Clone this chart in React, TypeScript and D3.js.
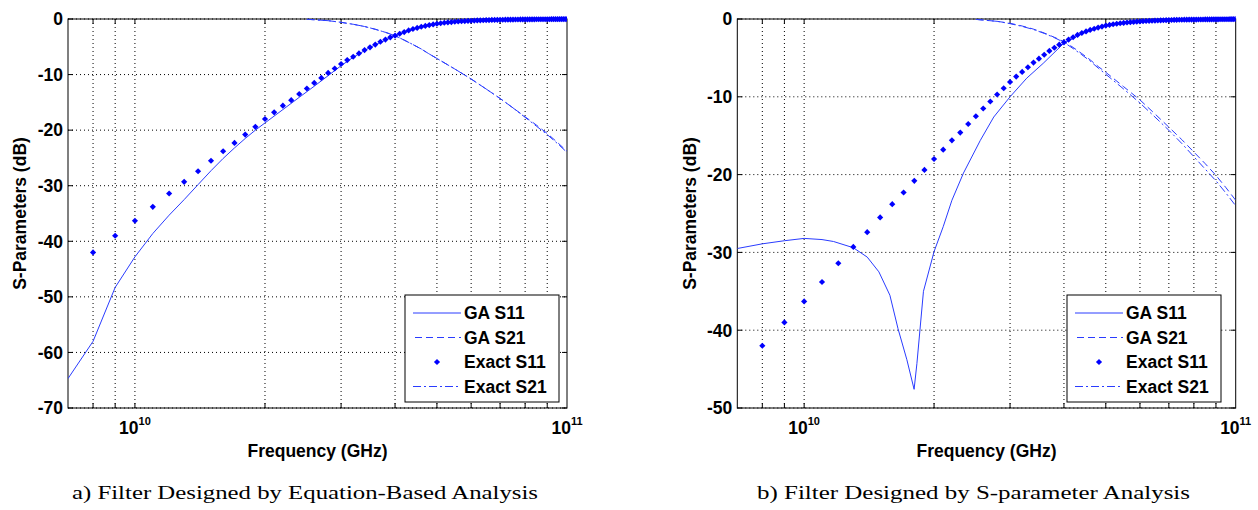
import React from "react";
import * as d3 from "d3";

// ---------- data (frequency in GHz, values in dB) ----------
const EXACT_FREQ = [
  8, 9, 10, 11, 12, 13, 14, 15, 16, 17, 18, 19, 20, 21, 22, 23, 24, 25, 26, 27, 28, 29, 30,
  31, 32, 33, 34, 35, 36, 37, 38, 39, 40, 41, 42, 43, 44, 45, 46, 47, 48, 49, 50, 51, 52, 53,
  54, 55, 56, 57, 58, 59, 60, 61, 62, 63, 64, 65, 66, 67, 68, 69, 70, 71, 72, 73, 74, 75, 76,
  77, 78, 79, 80, 81, 82, 83, 84, 85, 86, 87, 88, 89, 90, 91, 92, 93, 94, 95, 96, 97, 98, 99, 100,
];
const EXACT_S11 = [
  -42.0, -39.0, -36.3, -33.8, -31.4, -29.3, -27.4, -25.5, -23.8, -22.3, -20.8, -19.4, -18.0,
  -16.8, -15.6, -14.6, -13.5, -12.5, -11.5, -10.6, -9.7, -8.9, -8.1, -7.4, -6.8, -6.2, -5.6,
  -5.1, -4.6, -4.1, -3.7, -3.3, -3.0, -2.65, -2.35, -2.05, -1.8, -1.6, -1.4, -1.25, -1.1,
  -0.97, -0.85, -0.76, -0.68, -0.61, -0.55, -0.5, -0.45, -0.41, -0.37, -0.34, -0.31, -0.28,
  -0.26, -0.24, -0.22, -0.2, -0.19, -0.17, -0.16, -0.15, -0.14, -0.13, -0.12, -0.11, -0.1,
  -0.1, -0.09, -0.09, -0.08, -0.08, -0.07, -0.07, -0.06, -0.06, -0.06, -0.05, -0.05, -0.05,
  -0.04, -0.04, -0.04, -0.04, -0.03, -0.03, -0.03, -0.03, -0.03, -0.02, -0.02, -0.02, -0.02,
];

const S21_FREQ = [25, 28, 30, 32, 34, 36, 38, 40, 42, 44, 46, 48, 50, 55, 60, 65, 70, 75, 80, 85, 90, 95, 100];
const EXACT_S21 = [
  -0.05, -0.3, -0.6, -0.95, -1.35, -1.85, -2.4, -3.0, -3.8, -4.6, -5.4, -6.3, -7.1, -9.0,
  -10.8, -12.6, -14.3, -16.0, -17.7, -19.3, -20.8, -22.4, -24.0,
];
const GA_A_S21 = [
  -0.05, -0.3, -0.6, -0.95, -1.35, -1.85, -2.4, -3.0, -3.8, -4.6, -5.4, -6.3, -7.1, -9.0,
  -10.8, -12.6, -14.3, -16.0, -17.6, -19.1, -20.6, -22.2, -23.8,
];
const GA_B_S21 = [
  -0.05, -0.3, -0.55, -0.9, -1.3, -1.8, -2.35, -2.9, -3.65, -4.45, -5.25, -6.1, -6.85, -8.7,
  -10.4, -12.2, -13.9, -15.5, -17.1, -18.6, -20.1, -21.7, -23.3,
];

const GA_A_S11_FREQ = [7, 8, 9, 10, 11, 12, 13, 14, 15, 16, 17, 18, 19, 20, 22, 24, 26, 28, 30, 32, 35, 40, 45, 50, 60, 70, 80, 100];
const GA_A_S11 = [
  -64.7, -58.0, -48.3, -42.8, -38.6, -35.3, -32.5, -29.8, -27.3, -25.1, -23.2, -21.5, -20.0,
  -18.7, -16.3, -14.1, -12.1, -10.2, -8.4, -6.9, -5.1, -3.0, -1.6, -0.85, -0.31, -0.14, -0.07, -0.02,
];

const GA_B_S11_FREQ = [7, 8, 9, 10, 11, 11.7, 13, 14, 14.9, 15.8, 16.5, 17.3, 17.98, 18.25, 18.9, 20, 21, 22, 23.4, 25.6, 27.5, 30, 32.8, 35.8, 40, 45, 50, 60, 70, 80, 100];
const GA_B_S11 = [
  -29.5, -28.9, -28.5, -28.2, -28.35, -28.6, -29.4, -30.6, -32.5, -35.5, -39.8, -43.8, -47.6,
  -44.3, -35.0, -29.9, -26.7, -23.3, -19.8, -15.6, -12.6, -10.0, -7.6, -5.7, -3.1, -1.6,
  -0.85, -0.33, -0.15, -0.07, -0.02,
];

const Y_TICKS_A = [0, -10, -20, -30, -40, -50, -60, -70];
const Y_TICKS_B = [0, -10, -20, -30, -40, -50];
const X_GRID = [8, 9, 10, 20, 30, 40, 50, 60, 70, 80, 90];
const X_MAJOR = [10, 100];
const LEGEND = ["GA S11", "GA S21", "Exact S11", "Exact S21"];
const CAPTIONS = ["a) Filter Designed by Equation-Based Analysis", "b) Filter Designed by S-parameter Analysis"];

const BLUE = "#0000ff";
const LINE = "#2a3cff";
const FONT = "'Liberation Sans', Arial, sans-serif";
const MARKER = d3.symbol(d3.symbolSquare, 19)() || "";

type Pt = [number, number];
const zip = (a: number[], b: number[]): Pt[] => a.map((v, i) => [v, b[i]]);

function Panel(props: {
  id: string;
  x0: number;
  x1: number;
  yMin: number;
  yTicks: number[];
  gaS11: Pt[];
  gaS21: Pt[];
  caption: string;
  captionX: number;
  captionW: number;
  legendX: number;
}) {
  const y0 = 19, y1 = 408;
  const { x0, x1 } = props;
  const x = d3.scaleLog().domain([7, 100]).range([x0, x1]);
  const y = d3.scaleLinear().domain([props.yMin, 0]).range([y1, y0]);
  const line = d3.line<Pt>().x((d) => x(d[0])).y((d) => y(d[1]));
  const exactS11 = zip(EXACT_FREQ, EXACT_S11);
  const exactS21 = zip(S21_FREQ, EXACT_S21);
  const clip = `clip-${props.id}`;
  const lx = props.legendX, ly = 295, lw = 154, lh = 107;
  const rows = [313, 337.5, 362, 386.5];
  return (
    <g>
      <defs>
        <clipPath id={clip}>
          <rect x={x0} y={y0 - 3} width={x1 - x0} height={y1 - y0 + 3} />
        </clipPath>
      </defs>
      {/* grid */}
      {X_GRID.map((f) => (
        <line key={"gx" + f} x1={x(f)} x2={x(f)} y1={y0} y2={y1} stroke="#000" strokeWidth={1} strokeDasharray="1,3" />
      ))}
      {props.yTicks.map((t) => (
        <line key={"gy" + t} x1={x0} x2={x1} y1={y(t)} y2={y(t)} stroke="#000" strokeWidth={1} strokeDasharray="1,3" />
      ))}
      {/* box */}
      <rect x={x0} y={y0} width={x1 - x0} height={y1 - y0} fill="none" stroke="#000" strokeWidth={1} />
      {/* ticks */}
      {props.yTicks.map((t) => (
        <g key={"ty" + t}>
          <line x1={x0} x2={x0 + 5} y1={y(t)} y2={y(t)} stroke="#000" />
          <line x1={x1 - 5} x2={x1} y1={y(t)} y2={y(t)} stroke="#000" />
          <text x={x0 - 5} y={y(t)} dy="0.36em" textAnchor="end" fontFamily={FONT} fontWeight="bold" fontSize={17.5}>
            {t}
          </text>
        </g>
      ))}
      {X_GRID.map((f) => (
        <g key={"tx" + f}>
          <line x1={x(f)} x2={x(f)} y1={y1} y2={y1 - 5} stroke="#000" />
          <line x1={x(f)} x2={x(f)} y1={y0} y2={y0 + 5} stroke="#000" />
        </g>
      ))}
      {X_MAJOR.map((f) => (
        <text key={"lx" + f} x={x(f)} y={434} textAnchor="middle" fontFamily={FONT} fontWeight="bold" fontSize={17.5}>
          10
          <tspan dy={-9} fontSize={11}>{f === 10 ? "10" : "11"}</tspan>
        </text>
      ))}
      <text x={(x0 + x1) / 2} y={457} textAnchor="middle" fontFamily={FONT} fontWeight="bold" fontSize={17.5}>
        Frequency (GHz)
      </text>
      <text
        transform={`translate(${x0 - 48},${(y0 + y1) / 2}) rotate(-90)`}
        textAnchor="middle"
        dy="0.36em"
        fontFamily={FONT}
        fontWeight="bold"
        fontSize={17.5}
      >
        S-Parameters (dB)
      </text>
      {/* data */}
      <g clipPath={`url(#${clip})`}>
        <path d={line(props.gaS11) || ""} fill="none" stroke={LINE} strokeWidth={1} />
        <path d={line(props.gaS21) || ""} fill="none" stroke={LINE} strokeWidth={1} strokeDasharray="7,4" />
        <path d={line(exactS21) || ""} fill="none" stroke={LINE} strokeWidth={1} strokeDasharray="8,3,2,3" />
        {exactS11.map((d, i) => (
          <path key={"p" + i} d={MARKER} transform={`translate(${x(d[0])},${y(d[1])}) rotate(45)`} fill={BLUE} />
        ))}
      </g>
      {/* legend */}
      <rect x={lx} y={ly} width={lw} height={lh} fill="#fff" stroke="#000" strokeWidth={1} />
      <line x1={lx + 8} x2={lx + 56} y1={rows[0]} y2={rows[0]} stroke={LINE} strokeWidth={1} />
      <line x1={lx + 10} x2={lx + 56} y1={rows[1]} y2={rows[1]} stroke={LINE} strokeWidth={1} strokeDasharray="7,4" />
      <path d={MARKER} transform={`translate(${lx + 32},${rows[2]}) rotate(45)`} fill={BLUE} />
      <line x1={lx + 8} x2={lx + 56} y1={rows[3]} y2={rows[3]} stroke={LINE} strokeWidth={1} strokeDasharray="8,3,2,3" />
      {LEGEND.map((t, i) => (
        <text key={t} x={lx + 59} y={rows[i]} dy="0.36em" fontFamily={FONT} fontWeight="bold" fontSize={17.5}>
          {t}
        </text>
      ))}
      {/* caption */}
      <text
        x={props.captionX}
        y={499}
        fontFamily="'Liberation Serif', 'Times New Roman', serif"
        fontSize={18.5}
        textLength={props.captionW}
        lengthAdjust="spacingAndGlyphs"
      >
        {props.caption}
      </text>
    </g>
  );
}

export default function App() {
  return (
    <svg width={1258} height={510} style={{ position: "absolute", left: 0, top: 0, background: "#fff" }}>
      <rect x={0} y={0} width={1258} height={510} fill="#fff" />
      <Panel
        id="a"
        x0={68}
        x1={567}
        yMin={-70}
        yTicks={Y_TICKS_A}
        gaS11={zip(GA_A_S11_FREQ, GA_A_S11)}
        gaS21={zip(S21_FREQ, GA_A_S21)}
        caption={CAPTIONS[0]}
        captionX={72}
        captionW={466}
        legendX={405}
      />
      <Panel
        id="b"
        x0={737.3}
        x1={1235.7}
        yMin={-50}
        yTicks={Y_TICKS_B}
        gaS11={zip(GA_B_S11_FREQ, GA_B_S11)}
        gaS21={zip(S21_FREQ, GA_B_S21)}
        caption={CAPTIONS[1]}
        captionX={757}
        captionW={433}
        legendX={1067}
      />
    </svg>
  );
}
